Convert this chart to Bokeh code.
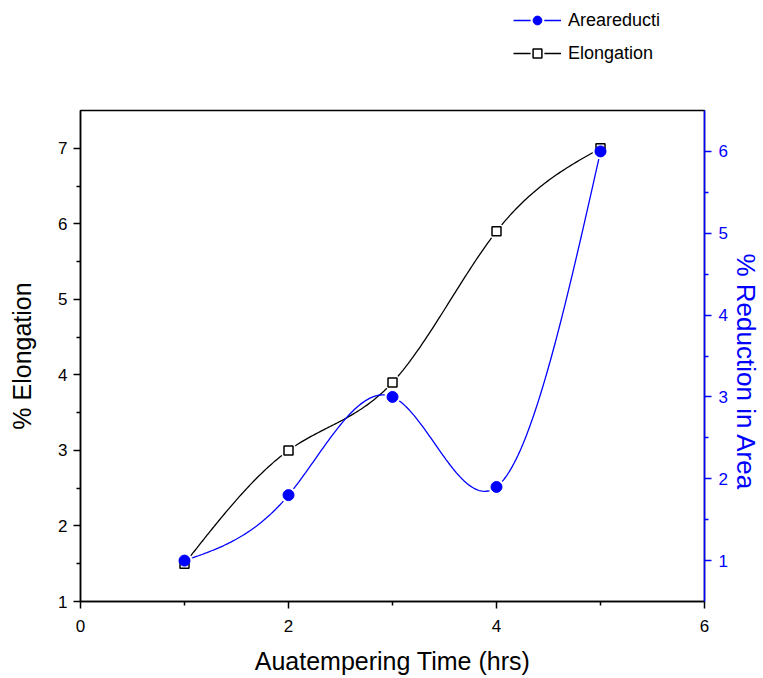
import numpy as np
from bokeh.plotting import figure
from bokeh.layouts import column
from bokeh.models import Range1d, LinearAxis, FixedTicker, Legend, LegendItem, Title
from bokeh.embed import file_html
from bokeh.resources import INLINE

# ---- data ----
time_hrs = [1, 2, 3, 4, 5]
elongation = [1.5, 3.0, 3.9, 5.9, 7.0]
area_reduction = [1.0, 1.8, 3.0, 1.9, 6.0]

x_ticks = [0, 2, 4, 6]
left_ticks = [1, 2, 3, 4, 5, 6, 7]
right_ticks = [1, 2, 3, 4, 5, 6]

BLUE = "#0000FF"
FONT = "Liberation Sans"


def natural_spline(xs, ys, n=60):
    """Smooth connecting line through the measured points (natural cubic spline)."""
    x = np.asarray(xs, float)
    y = np.asarray(ys, float)
    m = len(x)
    h = np.diff(x)
    A = np.zeros((m, m))
    b = np.zeros(m)
    A[0, 0] = A[-1, -1] = 1.0
    for i in range(1, m - 1):
        A[i, i - 1] = h[i - 1]
        A[i, i] = 2 * (h[i - 1] + h[i])
        A[i, i + 1] = h[i]
        b[i] = 6 * ((y[i + 1] - y[i]) / h[i] - (y[i] - y[i - 1]) / h[i - 1])
    M = np.linalg.solve(A, b)
    xx, yy = [], []
    for i in range(m - 1):
        t = np.linspace(x[i], x[i + 1], n, endpoint=(i == m - 2))
        a = x[i + 1] - t
        c = t - x[i]
        s = (M[i] * a ** 3 + M[i + 1] * c ** 3) / (6 * h[i]) \
            + (y[i] / h[i] - M[i] * h[i] / 6) * a \
            + (y[i + 1] / h[i] - M[i + 1] * h[i] / 6) * c
        xx.extend(t.tolist())
        yy.extend(s.tolist())
    return xx, yy


def add_series(fig, right_name=None):
    """Draw both series (spline line + white gap halo + marker) on fig."""
    kw = {} if right_name is None else {"y_range_name": right_name}
    ex, ey = natural_spline(time_hrs, elongation)
    ax_, ay_ = natural_spline(time_hrs, area_reduction)
    l_el = fig.line(ex, ey, line_color="black", line_width=1.3)
    l_ar = fig.line(ax_, ay_, line_color=BLUE, line_width=1.3, **kw)
    # white halos (thick white outline) leave the small gap between line and marker
    h_el = fig.scatter(time_hrs, elongation, marker="square", size=9, fill_color="white",
                       line_color="white", line_width=5)
    h_ar = fig.scatter(time_hrs, area_reduction, marker="circle", size=11, fill_color="white",
                       line_color="white", line_width=5, **kw)
    m_el = fig.scatter(time_hrs, elongation, marker="square", size=9, fill_color="white",
                       line_color="black", line_width=1.5)
    m_ar = fig.scatter(time_hrs, area_reduction, marker="circle", size=11, fill_color=BLUE,
                       line_color=BLUE, **kw)
    return (l_ar, h_ar, m_ar), (l_el, h_el, m_el)


# ---------------- main chart ----------------
p = figure(width=763, height=608, output_backend="svg", toolbar_location=None,
           x_range=Range1d(0, 6), y_range=Range1d(1, 7.5),
           min_border_left=80, min_border_right=59, min_border_top=40, min_border_bottom=77)
p.extra_y_ranges = {"right": Range1d(0.5, 6.5)}
p.xgrid.visible = False
p.ygrid.visible = False
p.outline_line_color = "black"
p.outline_line_width = 1.5
p.background_fill_color = "white"
p.border_fill_color = "white"


def style_axis(ax, color):
    ax.axis_line_color = color
    ax.axis_line_width = 1.5
    ax.major_tick_line_color = color
    ax.minor_tick_line_color = color
    ax.major_tick_line_width = 1.5
    ax.minor_tick_line_width = 1.5
    ax.major_tick_in = 0
    ax.major_tick_out = 7
    ax.minor_tick_in = 0
    ax.minor_tick_out = 4
    ax.major_label_text_color = color
    ax.major_label_text_font = FONT
    ax.major_label_text_font_size = "17px"
    ax.axis_label_text_color = color
    ax.axis_label_text_font = FONT
    ax.axis_label_text_font_size = "25px"
    ax.axis_label_text_font_style = "normal"


xa = p.xaxis[0]
style_axis(xa, "black")
xa.ticker = FixedTicker(ticks=x_ticks, minor_ticks=[1, 3, 5])
xa.axis_label = "Auatempering Time (hrs)"
xa.major_label_standoff = 11
xa.axis_label_standoff = 12

ya = p.yaxis[0]
style_axis(ya, "black")
ya.ticker = FixedTicker(ticks=left_ticks, minor_ticks=[1.5, 2.5, 3.5, 4.5, 5.5, 6.5])
ya.axis_label = "% Elongation"
ya.major_label_standoff = 6
ya.axis_label_standoff = 19

ra = LinearAxis(y_range_name="right")
style_axis(ra, BLUE)
ra.ticker = FixedTicker(ticks=right_ticks, minor_ticks=[1.5, 2.5, 3.5, 4.5, 5.5])
ra.major_label_standoff = 7
p.add_layout(ra, "right")

# right-hand axis title (shifted down along the axis as in the reference)
p.add_layout(Title(text="% Reduction in Area", align="left", offset=143, standoff=1,
                   text_color=BLUE, text_font=FONT, text_font_size="26px",
                   text_font_style="normal"), "right")

add_series(p, "right")

# ---------------- legend strip above the chart ----------------
lg = figure(width=763, height=70, output_backend="svg", toolbar_location=None,
            x_range=Range1d(100, 101), y_range=Range1d(100, 101), min_border=0,
            min_border_left=0, min_border_right=0, min_border_top=0, min_border_bottom=0)
lg.axis.visible = False
lg.xgrid.visible = False
lg.ygrid.visible = False
lg.outline_line_color = None
lg.background_fill_color = "white"
lg.border_fill_color = "white"
lg.extra_y_ranges = {"right": Range1d(100, 101)}

# same renderers, drawn outside this strip's view: only their legend swatches show
ar_r, el_r = add_series(lg, "right")

legend = Legend(items=[LegendItem(label="Areareducti", renderers=list(ar_r)),
                       LegendItem(label="Elongation", renderers=list(el_r))],
                location=(433, 6), orientation="vertical",
                glyph_width=48, glyph_height=22, label_height=22, spacing=11,
                label_standoff=7, padding=0, margin=0,
                label_text_font=FONT, label_text_font_size="18px", label_text_color="black",
                border_line_color=None, background_fill_alpha=0)
lg.add_layout(legend, "center")

layout = column(lg, p, spacing=0)
open("out.html", "w").write(file_html(layout, INLINE))
